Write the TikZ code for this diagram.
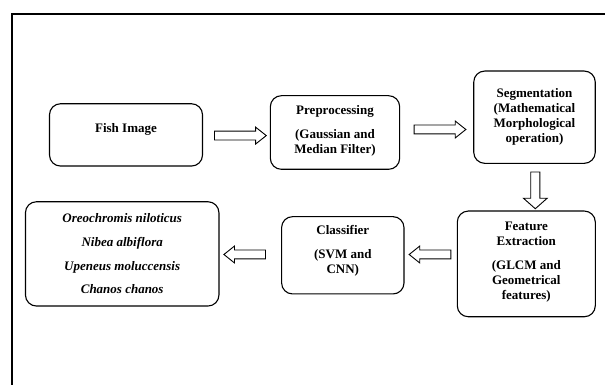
\documentclass[tikz,border=0pt]{standalone}
\usepackage{fontspec}
\setmainfont{Liberation Serif}
\usetikzlibrary{shapes.arrows,calc}
\begin{document}
\begin{tikzpicture}[x=1pt,y=1pt,
  box/.style={draw, line width=1.1pt, rounded corners=11pt, inner sep=0pt},
  txt/.style={align=center, font=\fontsize{13}{15}\selectfont\bfseries, inner sep=0pt},
  blk/.style={single arrow, draw, line width=0.9pt, inner sep=0pt, inner ysep=4pt,
    single arrow head extend=4pt, single arrow tip angle=77, minimum width=0pt}]
\useasboundingbox (0,0) rectangle (605,385);
\coordinate (fb) at (12,-3);
\coordinate (fc) at (12,371);
\coordinate (fr) at (608,371);
\draw[line width=2.2pt] (fb) -- (fc) -- (fr);

\node[box, minimum width=153pt, minimum height=62.3pt] (fish) at (126,250.1) {};
\node[txt] (fishT) at ($(fish.center)+(0,5)$) {Fish Image};

\node[box, minimum width=129.3pt, minimum height=73.6pt] (prep) at (335,252.5) {};
\node[txt] (prepT) at ($(prep.center)+(0,2)$) {Preprocessing\\[9pt](Gaussian and\\Median Filter)};

\node[box, minimum width=121.5pt, minimum height=92.3pt] (seg) at (534.5,267.8) {};
\node[txt] (segT) at (seg.center) {Segmentation\\(Mathematical\\Morphological\\operation)};

\node[box, minimum width=138pt, minimum height=105.7pt] (feat) at (526.3,121.1) {};
\node[txt] (featT) at ($(feat.center)+(0,1.4)$) {Feature\\Extraction\\[9pt](GLCM and\\Geometrical\\features)};

\node[box, minimum width=122.4pt, minimum height=77.3pt] (cls) at (342.8,129.7) {};
\node[txt] (clsT) at ($(cls.center)+(0,4)$) {Classifier\\[9pt](SVM and\\CNN)};

\node[box, minimum width=193.5pt, minimum height=104.3pt] (spc) at (122.2,131.1) {};
\node[txt, font=\fontsize{13}{15}\selectfont\bfseries\itshape] (spcT) at (spc.center)
  {Oreochromis niloticus\\[8.7pt]Nibea albiflora\\[8.7pt]Upeneus moluccensis\\[8.7pt]Chanos chanos};

\node[blk, minimum height=51.7pt] (a1) at (237.6,249.4) {};
\node[blk, minimum height=51.7pt] (a2) at (437.2,255.5) {};
\node[blk, minimum height=36.7pt, inner ysep=4.15pt, single arrow head extend=7.2pt,
  single arrow tip angle=97, rotate=-90] (a3) at (535.3,196.65) {};
\node[blk, minimum height=41.7pt, shape border rotate=180] (a4) at (432.8,130.5) {};
\node[blk, minimum height=41.6pt, shape border rotate=180] (a5) at (247.5,130.5) {};
\end{tikzpicture}
\end{document}
